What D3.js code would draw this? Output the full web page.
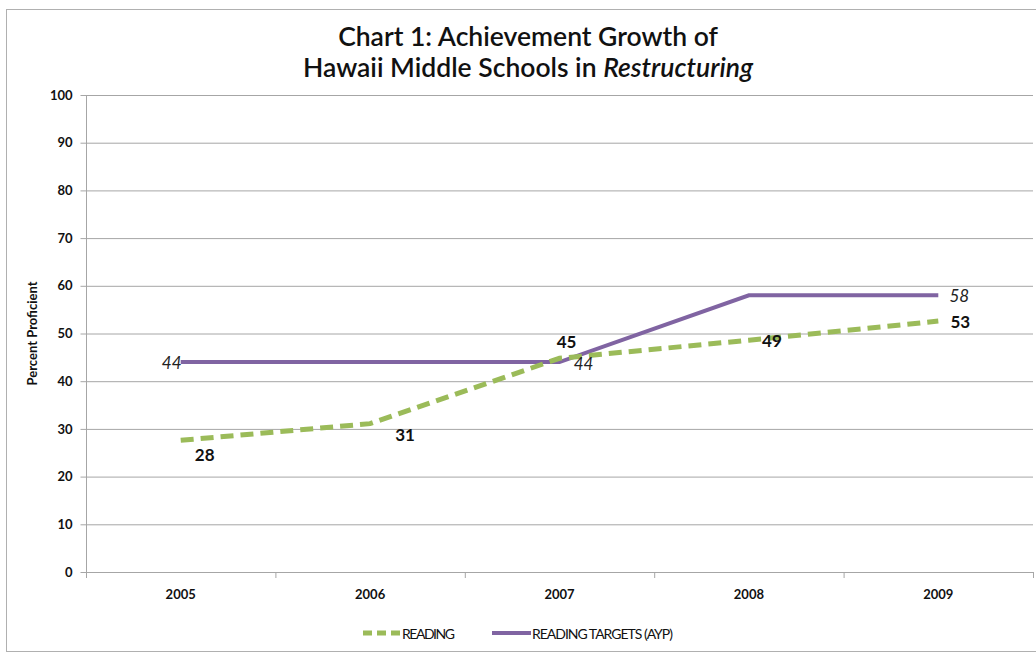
<!DOCTYPE html>
<html><head><meta charset="utf-8">
<script src="https://cdn.jsdelivr.net/npm/d3@7"></script>
<style>body{margin:0;background:#fff}svg{display:block}text{font-family:"Lato","Open Sans",sans-serif}</style>
</head><body><svg id="c" width="1036" height="654"></svg>
<script>
const years = ["2005","2006","2007","2008","2009"];
const reading = [27.6, 31.1, 44.8, 48.6, 52.6];
const readingLabels = ["28","31","45","49","53"];
const targets = [44, 44, 44, 58, 58];
const targetLabels = ["44", "", "44", "", "58"];
const yTicks = [0,10,20,30,40,50,60,70,80,90,100];

const svg = d3.select("#c");
const L = 86, R = 1033, T = 95, B = 572;
const x = d3.scaleBand().domain(years).range([L, R]);
const y = d3.scaleLinear().domain([0, 100]).range([B, T]);
const cx = d => x(d) + x.bandwidth() / 2;

svg.append("rect").attr("x", 6.5).attr("y", 9.5).attr("width", 1040).attr("height", 642)
  .attr("fill", "#fff").attr("stroke", "#b0b0b0").attr("stroke-width", 1);

svg.append("text").attr("x", 528).attr("y", 46).attr("text-anchor", "middle")
  .attr("font-size", 26.5).attr("font-weight", 600).attr("fill", "#111").text("Chart 1: Achievement Growth of");
const t2 = svg.append("text").attr("x", 528).attr("y", 77).attr("text-anchor", "middle")
  .attr("font-size", 26.5).attr("font-weight", 600).attr("fill", "#111");
t2.append("tspan").text("Hawaii Middle Schools in ");
t2.append("tspan").attr("font-style", "italic").text("Restructuring");

// gridlines
svg.append("g").selectAll("line").data(yTicks.filter(d => d > 0)).join("line")
  .attr("x1", L).attr("x2", R).attr("y1", d => y(d) + 0.5).attr("y2", d => y(d) + 0.5)
  .attr("stroke", "#a6a6a6").attr("stroke-width", 1);

// y axis
const ya = svg.append("g").attr("transform", `translate(${L + 0.5},0)`)
  .call(d3.axisLeft(y).tickValues(yTicks).tickSize(6).tickPadding(8).tickFormat(d3.format("d")));
ya.select(".domain").attr("stroke", "#a6a6a6").attr("d", `M0,${T}V${B}`);
ya.selectAll(".tick line").attr("stroke", "#a6a6a6");
ya.selectAll(".tick text").attr("font-size", 13).attr("font-weight", "bold").attr("fill", "#111")
  .style("font-family", "Lato, sans-serif");

// x axis
const xa = svg.append("g").attr("transform", `translate(0,${B + 0.5})`)
  .call(d3.axisBottom(x).tickSize(0).tickPadding(17));
xa.select(".domain").attr("stroke", "#a6a6a6").attr("d", `M${L},0H${R}`);
xa.selectAll(".tick text").attr("font-size", 13).attr("font-weight", "bold").attr("fill", "#111")
  .style("font-family", "Lato, sans-serif");
svg.append("g").selectAll("line").data(d3.range(years.length + 1)).join("line")
  .attr("x1", i => L + i * x.bandwidth() + 0.5).attr("x2", i => L + i * x.bandwidth() + 0.5)
  .attr("y1", B).attr("y2", B + 6).attr("stroke", "#a6a6a6");

svg.append("text").attr("transform", `translate(37,${(T + B) / 2}) rotate(-90)`)
  .attr("text-anchor", "middle").attr("font-size", 13).attr("font-weight", "bold")
  .attr("fill", "#111").text("Percent Proficient");

const line = d3.line().x((d, i) => cx(years[i])).y(d => y(d));
svg.append("path").datum(targets).attr("d", line).attr("fill", "none")
  .attr("stroke", "#8064A2").attr("stroke-width", 4).attr("stroke-linejoin", "miter");
svg.append("path").datum(reading).attr("d", line).attr("fill", "none")
  .attr("stroke", "#9BBB59").attr("stroke-width", 5).attr("stroke-dasharray", "13,7");

// reading labels
const rOff = [[24, 21], [35, 17], [7, -10], [23, 7], [22, 7]];
svg.append("g").selectAll("text").data(reading).join("text")
  .attr("x", (d, i) => cx(years[i]) + rOff[i][0]).attr("y", (d, i) => y(d) + rOff[i][1])
  .attr("text-anchor", "middle").attr("font-size", 17).attr("font-weight", "bold")
  .attr("fill", "#111").text((d, i) => readingLabels[i]);

// target labels
const tOff = [[-9, 7], [0, 0], [24, 8], [0, 0], [21, 7]];
svg.append("g").selectAll("text").data(targets).join("text")
  .attr("x", (d, i) => cx(years[i]) + tOff[i][0]).attr("y", (d, i) => y(d) + tOff[i][1])
  .attr("text-anchor", "middle").attr("font-size", 17).attr("font-style", "italic")
  .attr("fill", "#222").text((d, i) => targetLabels[i]);

// legend
const lg = svg.append("g");
lg.append("line").attr("x1", 363).attr("x2", 400).attr("y1", 633).attr("y2", 633)
  .attr("stroke", "#9BBB59").attr("stroke-width", 5).attr("stroke-dasharray", "9,5");
lg.append("text").attr("x", 402).attr("y", 638.5).attr("font-size", 14).attr("fill", "#111")
  .attr("textLength", 53).text("READING");
lg.append("line").attr("x1", 492).attr("x2", 531).attr("y1", 633).attr("y2", 633)
  .attr("stroke", "#8064A2").attr("stroke-width", 4);
lg.append("text").attr("x", 532).attr("y", 638.5).attr("font-size", 14).attr("fill", "#111")
  .attr("textLength", 141).text("READING TARGETS (AYP)");
</script></body></html>
